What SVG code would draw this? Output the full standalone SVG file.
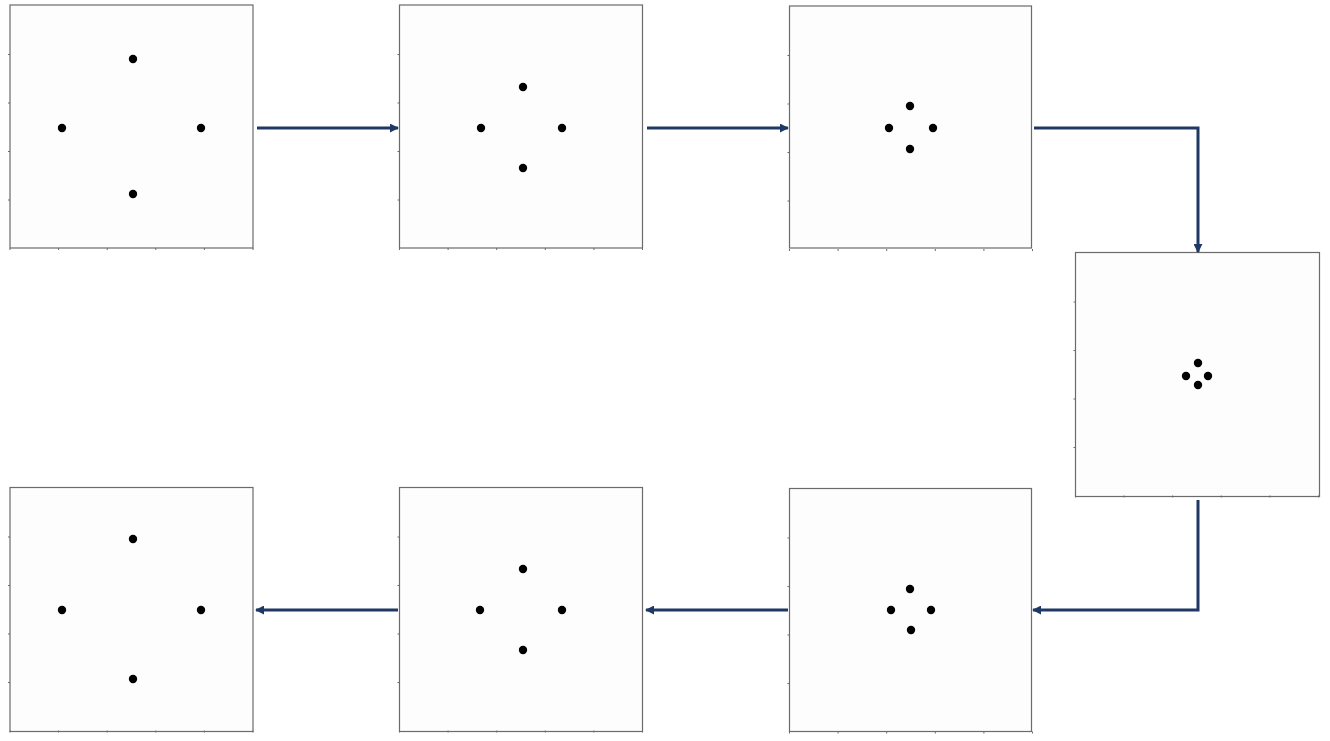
<svg xmlns="http://www.w3.org/2000/svg" width="1330" height="741" viewBox="0 0 1330 741">
<defs>
<style>
.frame{fill:#fdfdfd;stroke:#6b6b6b;stroke-width:1.2}
.tick{stroke:#6b6b6b;stroke-width:1}
.dot{fill:#000}
.conn{fill:none;stroke:#203864;stroke-width:3}
</style>
<marker id="ah" viewBox="0 0 10 10" refX="9" refY="5" markerWidth="3" markerHeight="3" orient="auto" markerUnits="strokeWidth">
<path d="M0,0 L10,5 L0,10 Z" fill="#203864"/>
</marker>
<g id="ticks">
<path class="tick" d="M-2,49.5h2M-2,98h2M-2,146.5h2M-2,195h2M0,243v2M48.6,243v2M97.2,243v2M145.8,243v2M194.4,243v2M243,243v2"/>
</g>
</defs>
<rect width="1330" height="741" fill="#ffffff"/>
<g id="node1" transform="translate(10,5)">
<rect class="frame" x="0" y="0" width="243" height="243"/>
<use href="#ticks"/>
<circle class="dot" cx="123" cy="54" r="4.2"/>
<circle class="dot" cx="52" cy="123" r="4.2"/>
<circle class="dot" cx="191" cy="123" r="4.2"/>
<circle class="dot" cx="123" cy="189" r="4.2"/>
</g>
<g id="node2" transform="translate(399.5,5)">
<rect class="frame" x="0" y="0" width="243" height="243"/>
<use href="#ticks"/>
<circle class="dot" cx="123.5" cy="82" r="4.2"/>
<circle class="dot" cx="81.5" cy="123" r="4.2"/>
<circle class="dot" cx="162.5" cy="123" r="4.2"/>
<circle class="dot" cx="123.5" cy="163" r="4.2"/>
</g>
<g id="node3" transform="translate(789.5,6)">
<rect class="frame" x="0" y="0" width="242" height="242"/>
<use href="#ticks"/>
<circle class="dot" cx="120.5" cy="100" r="4.2"/>
<circle class="dot" cx="99.5" cy="122" r="4.2"/>
<circle class="dot" cx="143.5" cy="122" r="4.2"/>
<circle class="dot" cx="120.5" cy="143" r="4.2"/>
</g>
<g id="node4" transform="translate(1075.5,252.5)">
<rect class="frame" x="0" y="0" width="244" height="244"/>
<use href="#ticks"/>
<circle class="dot" cx="122.5" cy="110.5" r="4.2"/>
<circle class="dot" cx="110.5" cy="123.5" r="4.2"/>
<circle class="dot" cx="132.5" cy="123.5" r="4.2"/>
<circle class="dot" cx="122.5" cy="132.5" r="4.2"/>
</g>
<g id="node5" transform="translate(789.5,488.5)">
<rect class="frame" x="0" y="0" width="242" height="243"/>
<use href="#ticks"/>
<circle class="dot" cx="120.5" cy="100.5" r="4.2"/>
<circle class="dot" cx="101.5" cy="121.5" r="4.2"/>
<circle class="dot" cx="141.5" cy="121.5" r="4.2"/>
<circle class="dot" cx="121.5" cy="141.5" r="4.2"/>
</g>
<g id="node6" transform="translate(399.5,487.5)">
<rect class="frame" x="0" y="0" width="243" height="244"/>
<use href="#ticks"/>
<circle class="dot" cx="123.5" cy="81.5" r="4.2"/>
<circle class="dot" cx="80.5" cy="122.5" r="4.2"/>
<circle class="dot" cx="162.5" cy="122.5" r="4.2"/>
<circle class="dot" cx="123.5" cy="162.5" r="4.2"/>
</g>
<g id="node7" transform="translate(10,487.5)">
<rect class="frame" x="0" y="0" width="243" height="244"/>
<use href="#ticks"/>
<circle class="dot" cx="123" cy="51.5" r="4.2"/>
<circle class="dot" cx="52" cy="122.5" r="4.2"/>
<circle class="dot" cx="191" cy="122.5" r="4.2"/>
<circle class="dot" cx="123" cy="191.5" r="4.2"/>
</g>
<g id="connectors">
<path class="conn" d="M257,128 H398" marker-end="url(#ah)"/>
<path class="conn" d="M647,128 H788" marker-end="url(#ah)"/>
<path class="conn" d="M1034,128 H1198 V252" marker-end="url(#ah)"/>
<path class="conn" d="M1198,500 V610 H1033" marker-end="url(#ah)"/>
<path class="conn" d="M788,610 H646" marker-end="url(#ah)"/>
<path class="conn" d="M398,610 H256" marker-end="url(#ah)"/>
</g>
</svg>
